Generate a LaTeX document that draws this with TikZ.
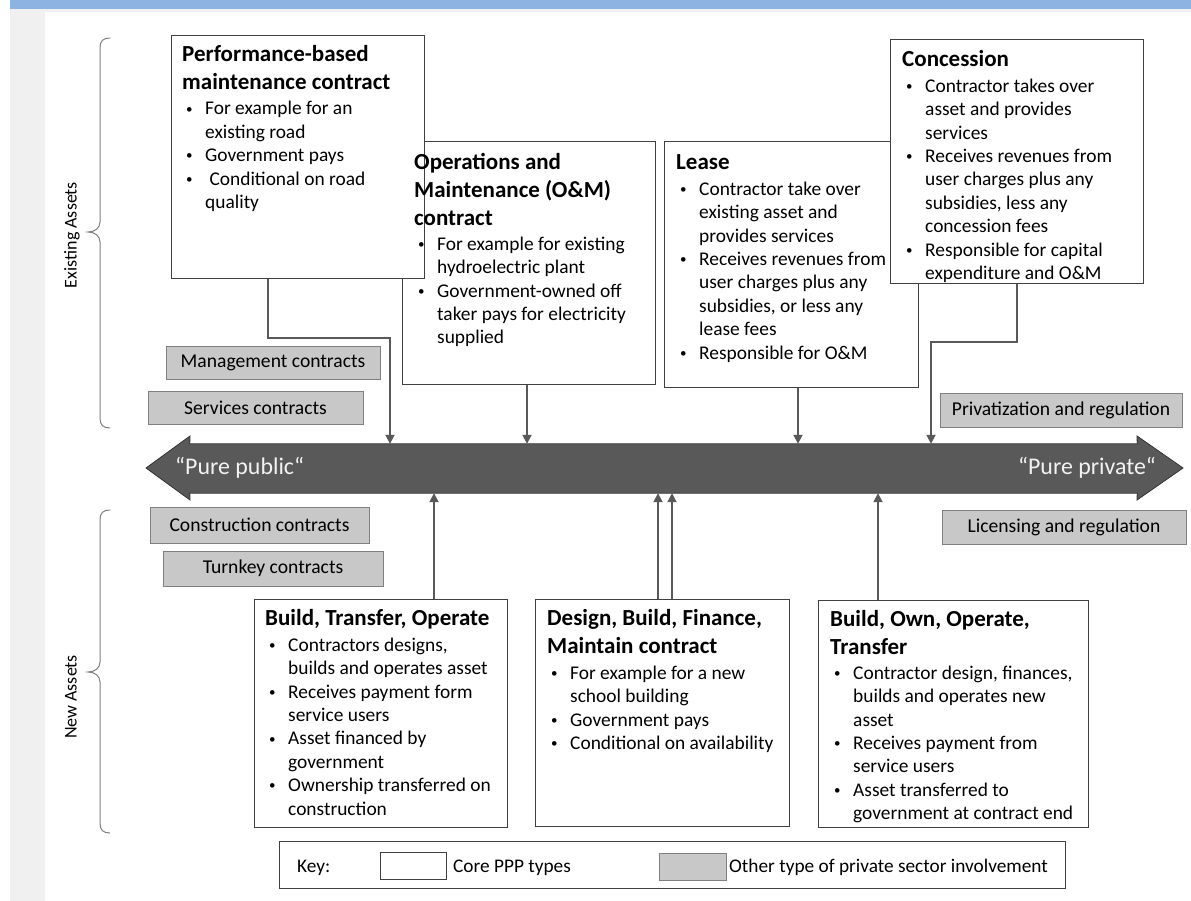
\documentclass[tikz,border=0pt]{standalone}
\usepackage{fontspec}
\setmainfont{Carlito}
\usetikzlibrary{arrows.meta}
\definecolor{arrowgray}{RGB}{89,89,89}
\definecolor{boxgray}{RGB}{200,200,200}
\definecolor{edgegray}{RGB}{128,128,128}
\definecolor{coreedge}{RGB}{64,64,64}
\definecolor{topblue}{RGB}{141,179,226}
\definecolor{sidegray}{RGB}{240,240,240}
\definecolor{pubtext}{RGB}{242,242,242}
\newcommand{\boxtitle}[1]{{\fontsize{23}{28}\selectfont\bfseries\rule{0pt}{16pt}#1}}
\newcommand{\bitem}{\hspace*{4pt}\makebox[19pt][l]{\raisebox{1.8pt}{\fontsize{13}{13}\selectfont •}}}
\newcommand{\bcont}{\hspace*{23pt}}
\tikzset{
  corebox/.style={draw=coreedge, line width=1pt, fill=white, inner sep=0pt, rectangle},
  otherbox/.style={draw=edgegray, line width=1pt, fill=boxgray, inner sep=0pt, rectangle, font=\fontsize{19.6}{23}\selectfont},
  boxtext/.style={anchor=north west, align=left, inner sep=0pt, font=\fontsize{19.4}{23.4}\selectfont},
  conn/.style={draw=arrowgray, line width=1.8pt, -{Triangle[length=9pt,width=9pt]}},
  bracepath/.style={draw=edgegray, line width=1pt},
  sidelabel/.style={rotate=90, inner sep=0pt, font=\fontsize{18}{21}\selectfont},
  keytext/.style={anchor=west, inner sep=0pt, font=\fontsize{19.3}{23}\selectfont},
}
\begin{document}
\begin{tikzpicture}[x=1pt,y=-1pt]
\useasboundingbox (0,0) rectangle (1191,901);
\fill[white] (0,0) rectangle (1191,901);
\fill[sidegray] (10,0) rectangle (1191,12);
\fill[topblue] (10,0) rectangle (1191,9);
\fill[sidegray] (10,12) rectangle (45,901);

% braces
\draw[bracepath] (110,38) .. controls (103,38) and (100,41) .. (100,48) -- (100,222)
  .. controls (100,228) and (95,232) .. (88,232) .. controls (95,232) and (100,236) .. (100,242)
  -- (100,418) .. controls (100,425) and (103,428) .. (110,428);
\draw[bracepath] (110,510) .. controls (103,510) and (100,513) .. (100,520) -- (100,662)
  .. controls (100,668) and (95,672) .. (88,672) .. controls (95,672) and (100,676) .. (100,682)
  -- (100,823) .. controls (100,830) and (103,833) .. (110,833);
\node[sidelabel] (ea) at (72,235) {Existing Assets};
\node[sidelabel] (na) at (71,697) {New Assets};

% core boxes, top row
\node[corebox, minimum width=253pt, minimum height=242pt] (om) at (528.5,263) {};
\node[corebox, minimum width=253pt, minimum height=243pt] (pbm) at (297.5,157.5) {};
\node[corebox, minimum width=254pt, minimum height=245pt] (lease) at (791,264.5) {};
\node[corebox, minimum width=253pt, minimum height=244pt] (con) at (1016.5,162) {};

\node[boxtext] (pbmT) at (182,45.5) {\boxtitle{Performance-based}\\[4.6pt]
 \boxtitle{maintenance contract}\\[1.6pt]
 \bitem For example for an\\ \bcont existing road\\
 \bitem Government pays\\
 \bitem\ Conditional on road\\ \bcont quality};
\node[boxtext] (omT) at (414,153) {\boxtitle{Operations and}\\[4.6pt]
 \boxtitle{Maintenance (O\&M)}\\[4.6pt]
 \boxtitle{contract}\\[1.6pt]
 \bitem For example for existing\\ \bcont hydroelectric plant\\
 \bitem Government-owned off\\ \bcont taker pays for electricity\\ \bcont supplied};
\node[boxtext] (leaseT) at (676,153) {\boxtitle{Lease}\\[2.6pt]
 \bitem Contractor take over\\ \bcont existing asset and\\ \bcont provides services\\
 \bitem Receives revenues from\\ \bcont user charges plus any\\ \bcont subsidies, or less any\\ \bcont lease fees\\
 \bitem Responsible for O\&M};
\node[boxtext] (conT) at (902,50) {\boxtitle{Concession}\\[2.6pt]
 \bitem Contractor takes over\\ \bcont asset and provides\\ \bcont services\\
 \bitem Receives revenues from\\ \bcont user charges plus any\\ \bcont subsidies, less any\\ \bcont concession fees\\
 \bitem Responsible for capital\\ \bcont expenditure and O\&M};

% other boxes
\node[otherbox, minimum width=214pt, minimum height=33pt] (mgmt) at (273,362.5) {Management contracts};
\node[otherbox, minimum width=215pt, minimum height=33pt] (serv) at (255.5,407.5) {Services contracts};
\node[otherbox, minimum width=242pt, minimum height=34pt] (priv) at (1061,410) {Privatization and regulation};
\node[otherbox, minimum width=244pt, minimum height=34pt] (lic) at (1064,527) {Licensing and regulation};
\node[otherbox, minimum width=219pt, minimum height=36pt] (constr) at (259.5,525) {Construction contracts};
\node[otherbox, minimum width=220pt, minimum height=35pt] (turn) at (273,568.5) {Turnkey contracts};

% main spectrum arrow
\node[minimum width=947pt, minimum height=49pt, inner sep=0pt] (bar) at (663.5,468.5) {};
\filldraw[fill=arrowgray, draw=black!80, line width=0.8pt]
  (146,468) -- (190,436) -- (bar.north west) -- (bar.north east) -- (1137,436) -- (1183,468)
  -- (1137,500) -- (bar.south east) -- (bar.south west) -- (190,500) -- cycle;
\node[anchor=west, inner sep=0pt, text=pubtext, font=\fontsize{23.9}{27}\selectfont] (pub) at (175,468) {“Pure public“};
\node[anchor=east, inner sep=0pt, text=pubtext, font=\fontsize{23.9}{27}\selectfont] (priv2) at (1156,468) {“Pure private“};

% core boxes, bottom row
\node[corebox, minimum width=253pt, minimum height=228pt] (bto) at (380.5,713) {};
\node[corebox, minimum width=254pt, minimum height=227pt] (dbfm) at (662,712.5) {};
\node[corebox, minimum width=270pt, minimum height=227pt] (boot) at (953,713.5) {};

\node[boxtext] (btoT) at (265,609) {\boxtitle{Build, Transfer, Operate}\\[2.6pt]
 \bitem Contractors designs,\\ \bcont builds and operates asset\\
 \bitem Receives payment form\\ \bcont service users\\
 \bitem Asset financed by\\ \bcont government\\
 \bitem Ownership transferred on\\ \bcont construction};
\node[boxtext] (dbfmT) at (547,609) {\boxtitle{Design, Build, Finance,}\\[4.6pt]
 \boxtitle{Maintain contract}\\[2.6pt]
 \bitem For example for a new\\ \bcont school building\\
 \bitem Government pays\\
 \bitem Conditional on availability};
\node[boxtext] (bootT) at (830,610) {\boxtitle{Build, Own, Operate,}\\[4.6pt]
 \boxtitle{Transfer}\\[1.6pt]
 \bitem Contractor design, finances,\\ \bcont builds and operates new\\ \bcont asset\\
 \bitem Receives payment from\\ \bcont service users\\
 \bitem Asset transferred to\\ \bcont government at contract end};

% connectors
\draw[conn] (268,0 |- pbm.south) |- (390,338) -- (390,0 |- bar.north);
\draw[conn] (527,0 |- om.south) -- (527,0 |- bar.north);
\draw[conn] (798,0 |- lease.south) -- (798,0 |- bar.north);
\draw[conn] (1017,0 |- con.south) |- (931,342) -- (931,0 |- bar.north);
\draw[conn] (434,0 |- bto.north) -- (434,0 |- bar.south);
\draw[conn] (658,0 |- dbfm.north) -- (658,0 |- bar.south);
\draw[conn] (672,0 |- dbfm.north) -- (672,0 |- bar.south);
\draw[conn] (878,0 |- boot.north) -- (878,0 |- bar.south);

% key
\node[corebox, minimum width=786pt, minimum height=47pt] (key) at (672,864.5) {};
\node[keytext] (keyL) at (297,867.5) {Key:};
\node[corebox, minimum width=66pt, minimum height=27pt] (keyW) at (413,865.5) {};
\node[keytext] (keyC) at (453,867.5) {Core PPP types};
\node[otherbox, minimum width=67pt, minimum height=27pt] (keyG) at (692.5,866.5) {};
\node[keytext] (keyO) at (729,867.5) {Other type of private sector involvement};
\end{tikzpicture}
\end{document}
